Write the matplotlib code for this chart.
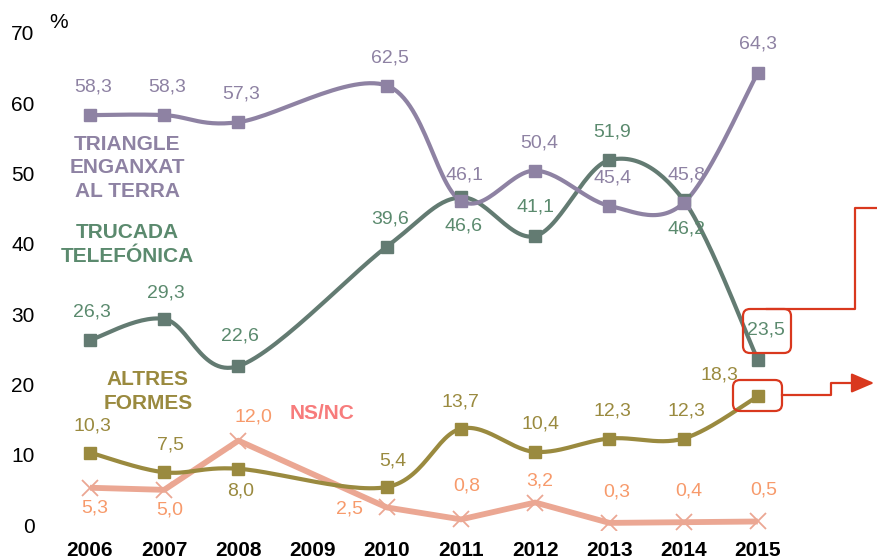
import numpy as np
import matplotlib
matplotlib.use("Agg")
import matplotlib.pyplot as plt
from matplotlib.patches import FancyBboxPatch, FancyArrowPatch
from matplotlib.lines import Line2D
from matplotlib.transforms import IdentityTransform

plt.rcParams['font.family'] = ['Liberation Sans', 'DejaVu Sans']

# Dades (None = sense dada)
anys = [2006, 2007, 2008, 2009, 2010, 2011, 2012, 2013, 2014, 2015]
triangle = [58.3, 58.3, 57.3, None, 62.5, 46.1, 50.4, 45.4, 45.8, 64.3]
trucada = [26.3, 29.3, 22.6, None, 39.6, 46.6, 41.1, 51.9, 46.2, 23.5]
altres = [10.3, 7.5, 8.0, None, 5.4, 13.7, 10.4, 12.3, 12.3, 18.3]
nsnc = [5.3, 5.0, 12.0, None, 2.5, 0.8, 3.2, 0.3, 0.4, 0.5]

# Desplaçament de les etiquetes (en píxels)
off_triangle = [(3, 28), (3, 28), (3, 28), None, (3, 28), (3, 26), (4, 28), (3, 28), (3, 28), (0, 29)]
off_trucada = [(2, 28), (2, 26), (2, 30), None, (3, 28), (2, -29), (0, 29), (3, 28), (3, -29), (8, 30)]
off_altres = [(2, 27), (6, 27), (2, -22), None, (6, 26), (-1, 27), (5, 28), (3, 28), (3, 28), (-38, 21)]
off_nsnc = [(5, -20), (6, -20), (15, 24), None, (-37, -2), (6, 33), (5, 22), (7, 31), (5, 31), (6, 31)]

c_tri = '#8E82A3'
c_tru_line = '#637B72'
c_tru_text = '#5B8A6E'
c_alt = '#9A8A3F'
c_ns_line = '#EBA793'
c_ns_text = '#F79A6B'
c_ns_name = '#F77C7C'
c_red = '#D9381E'


def suavitza(xs, ys, n=30):
    # corba de Bezier tipus Catmull-Rom (com la línia suavitzada d'Excel)
    P = np.column_stack([xs, ys]).astype(float)
    out = [P[0]]
    for i in range(len(P) - 1):
        p0 = P[i - 1] if i > 0 else P[i]
        p1, p2 = P[i], P[i + 1]
        p3 = P[i + 2] if i + 2 < len(P) else P[i + 1]
        c1 = p1 + (p2 - p0) / 6
        c2 = p2 - (p3 - p1) / 6
        t = np.linspace(0, 1, n)[1:, None]
        seg = ((1 - t) ** 3) * p1 + 3 * ((1 - t) ** 2) * t * c1 + 3 * (1 - t) * t ** 2 * c2 + t ** 3 * p2
        out.extend(seg)
    out = np.array(out)
    return out[:, 0], out[:, 1]


fig = plt.figure(figsize=(8.77, 5.6), dpi=100)
ax = fig.add_axes([50 / 877, 30 / 560, 827 / 877, 510 / 560])
ax.set_xlim(2005.461, 2016.606)
ax.set_ylim(-0.71, 71.83)


def serie(vals, offs, line_c, text_c, marker, smooth, lw, ms, mew=0):
    xs = [a for a, v in zip(anys, vals) if v is not None]
    ys = [v for v in vals if v is not None]
    if smooth:
        sx, sy = suavitza(xs, ys)
    else:
        sx, sy = xs, ys
    ax.plot(sx, sy, color=line_c, lw=lw, solid_capstyle='butt', zorder=2)
    ax.plot(xs, ys, ls='none', marker=marker, color=line_c, ms=ms,
            mew=mew if mew else 1, zorder=3)
    for a, v, o in zip(anys, vals, offs):
        if v is None:
            continue
        ax.annotate(f'{v:.1f}'.replace('.', ','), (a, v), xytext=(o[0], o[1]),
                    textcoords='offset pixels', ha='center', va='center',
                    color=text_c, fontsize=14, zorder=4)


serie(nsnc, off_nsnc, c_ns_line, c_ns_text, 'x', False, 4.2, 12, mew=1.3)
serie(altres, off_altres, c_alt, c_alt, 's', True, 3, 8)
serie(trucada, off_trucada, c_tru_line, c_tru_text, 's', True, 3, 8)
serie(triangle, off_triangle, c_tri, c_tri, 's', True, 3, 8)

# Noms de les sèries
ax.text(2006.5, 50.8, 'TRIANGLE\nENGANXAT\nAL TERRA', color=c_tri, fontsize=15,
        fontweight='bold', ha='center', va='center', linespacing=1.3)
ax.text(2006.5, 39.9, 'TRUCADA\nTELEFÓNICA', color=c_tru_text, fontsize=15,
        fontweight='bold', ha='center', va='center', linespacing=1.3)
ax.text(2006.78, 19.0, 'ALTRES\nFORMES', color=c_alt, fontsize=15,
        fontweight='bold', ha='center', va='center', linespacing=1.3)
ax.text(2009.13, 15.8, 'NS/NC', color=c_ns_name, fontsize=15,
        fontweight='bold', ha='center', va='center')

ax.text(2005.57, 71.5, '%', fontsize=15, ha='center', va='center')

ax.set_xticks(anys)
ax.set_xticklabels([str(a) for a in anys], fontsize=15, fontweight='bold')
ax.set_yticks(range(0, 71, 10))
ax.set_yticklabels([str(v) for v in range(0, 71, 10)], fontsize=15)
ax.tick_params(axis='x', length=0, pad=8)
ax.tick_params(axis='y', length=0, pad=11)
for s in ax.spines.values():
    s.set_visible(False)

# Requadres i fletxes vermelles (en píxels de pantalla)
H = 560
ident = IdentityTransform()
fig.patches.append(FancyBboxPatch((743, H - 353), 48, 44,
                                  boxstyle='round,pad=0,rounding_size=7',
                                  transform=ident, ec=c_red, fc='none', lw=1.6))
fig.patches.append(FancyBboxPatch((733, H - 411), 49, 31,
                                  boxstyle='round,pad=0,rounding_size=7',
                                  transform=ident, ec=c_red, fc='none', lw=1.6))
fig.add_artist(Line2D([767, 855, 855, 880], [H - 309, H - 309, H - 208, H - 208],
                      transform=ident, color=c_red, lw=1.6))
fig.add_artist(Line2D([782, 831, 831, 865], [H - 395, H - 395, H - 383, H - 383],
                      transform=ident, color=c_red, lw=1.6))
fig.add_artist(FancyArrowPatch((850, H - 383), (877, H - 383), transform=ident,
                               arrowstyle='-|>,head_length=14,head_width=6',
                               color=c_red, lw=1.6, mutation_scale=1))

fig.savefig('out.png', dpi=100)
